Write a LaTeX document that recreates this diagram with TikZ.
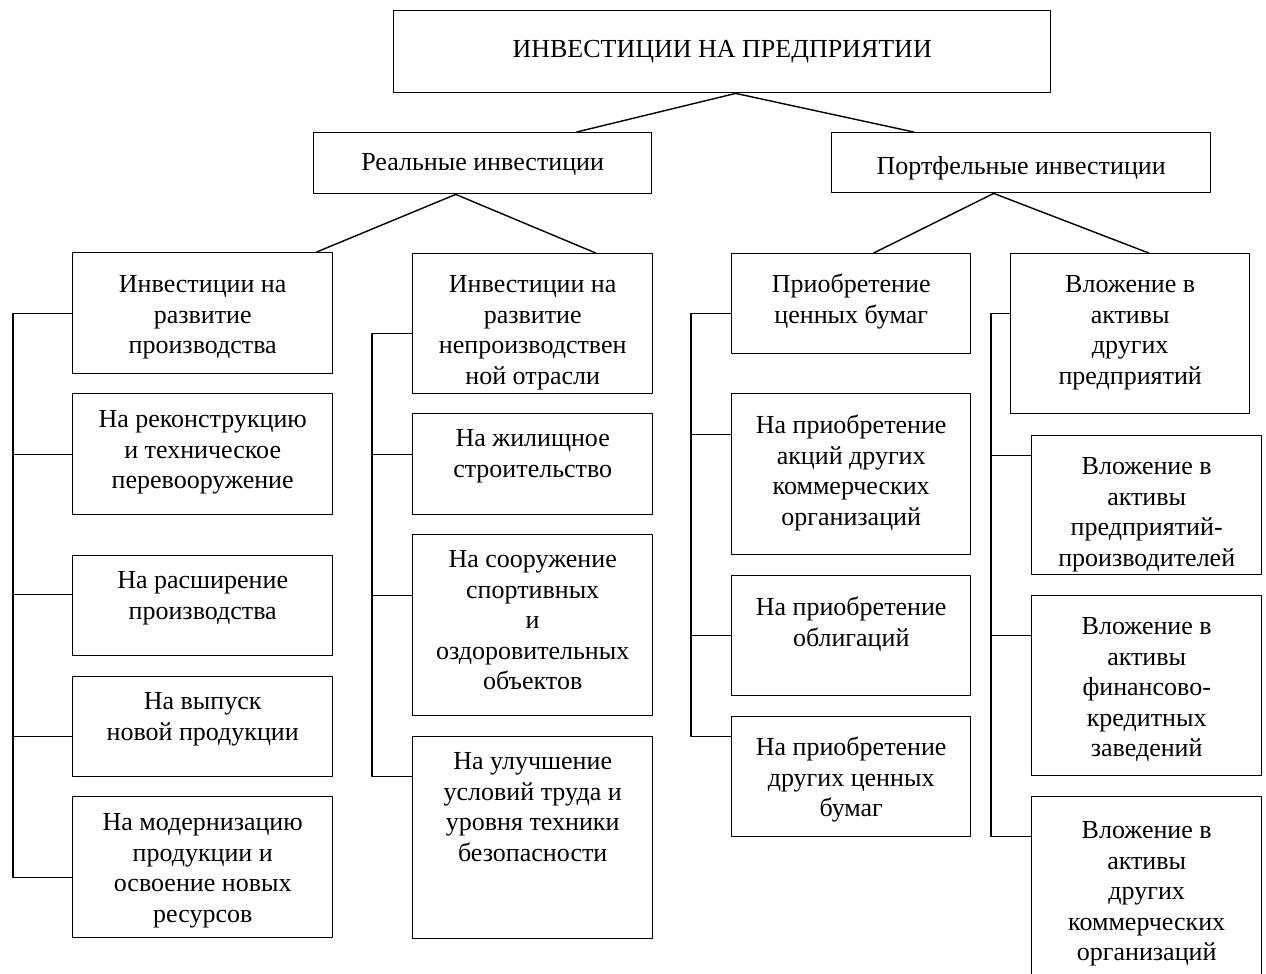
\documentclass[tikz,border=0pt]{standalone}
\usepackage{fontspec}
\setmainfont{Liberation Serif}
\usepackage{tikz}
\newcommand{\boxtxt}[4]{\parbox[t][#1pt][t]{#2pt}{\centering\rule{0pt}{#3pt}#4}}

\begin{document}
\begin{tikzpicture}[line cap=round,line join=round,x=1pt,y=-1pt,
  box/.style={draw,line width=1.4pt,inner sep=0pt,anchor=north west,font=\fontsize{26}{30.5}\selectfont},
  link/.style={line width=1.4pt}]
\useasboundingbox (0,0) rectangle (1266,974);
% upper levels
\node[box] (top) at (393,10) {\boxtxt{82}{657}{47}{ИНВЕСТИЦИИ НА ПРЕДПРИЯТИИ}};
\node[box] (real) at (313,132) {\boxtxt{61}{338}{38}{Реальные инвестиции}};
\node[box] (port) at (831,132) {\boxtxt{60}{379}{42}{Портфельные инвестиции}};
% column 1
\node[box] (c1b1) at (72,252) {\boxtxt{121}{260}{40}{Инвестиции на\\развитие\\производства}};
\node[box] (c1b2) at (72,393) {\boxtxt{121}{260}{34}{На реконструкцию\\и техническое\\перевооружение}};
\node[box] (c1b3) at (72,555) {\boxtxt{100}{260}{33}{На расширение\\производства}};
\node[box] (c1b4) at (72,676) {\boxtxt{100}{260}{33}{На выпуск\\новой продукции}};
\node[box] (c1b5) at (72,796) {\boxtxt{141}{260}{34}{На модернизацию\\продукции и\\освоение новых\\ресурсов}};
% column 2
\node[box] (c2b1) at (412,253) {\boxtxt{140}{240}{39}{Инвестиции на\\развитие\\непроизводствен\\ной отрасли}};
\node[box] (c2b2) at (412,413) {\boxtxt{101}{240}{33}{На жилищное\\строительство}};
\node[box] (c2b3) at (412,534) {\boxtxt{181}{240}{33}{На сооружение\\спортивных\\и\\оздоровительных\\объектов}};
\node[box] (c2b4) at (412,736) {\boxtxt{202}{240}{33}{На улучшение\\условий труда и\\уровня техники\\безопасности}};
% column 3
\node[box] (c3b1) at (731,253) {\boxtxt{100}{239}{39}{Приобретение\\ценных бумаг}};
\node[box] (c3b2) at (731,393) {\boxtxt{161}{239}{40}{На приобретение\\акций других\\коммерческих\\организаций}};
\node[box] (c3b3) at (731,575) {\boxtxt{120}{239}{40}{На приобретение\\облигаций}};
\node[box] (c3b4) at (731,716) {\boxtxt{120}{239}{39}{На приобретение\\других ценных\\бумаг}};
% column 4
\node[box] (c4b1) at (1010,253) {\boxtxt{160}{239}{39}{Вложение в\\активы\\других\\предприятий}};
\node[box] (c4b2) at (1031,435) {\boxtxt{139}{230}{39}{Вложение в\\активы\\предприятий-\\производителей}};
\node[box] (c4b3) at (1031,595) {\boxtxt{180}{230}{39}{Вложение в\\активы\\финансово-\\кредитных\\заведений}};
\node[box] (c4b4) at (1031,796) {\boxtxt{200}{230}{42}{Вложение в\\активы\\других\\коммерческих\\организаций}};
% tree links
\draw[link] ([xshift=13.5pt]top.south) -- ([xshift=94pt]real.north);
\draw[link] ([xshift=13.5pt]top.south) -- ([xshift=-107.5pt]port.north);
\draw[link] ([xshift=-27pt]real.south) -- ([xshift=114pt]c1b1.north);
\draw[link] ([xshift=-27pt]real.south) -- ([xshift=63pt]c2b1.north);
\draw[link] ([xshift=-27.5pt]port.south) -- ([xshift=22.5pt]c3b1.north);
\draw[link] ([xshift=-27.5pt]port.south) -- ([xshift=18.5pt]c4b1.north);
% brackets
\draw[link] (c1b1.west) -- ++(-59,0) |- ([yshift=-10pt]c1b5.west);
\foreach \n/\s in {c1b2/0,c1b3/11,c1b4/-10}
  \draw[link] ([yshift=\s pt]\n.west) -- ++(-59,0);
\draw[link] ([yshift=-10pt]c2b1.west) -- ++(-40,0) |- ([yshift=61pt]c2b4.west);
\foreach \n/\s in {c2b2/10,c2b3/30}
  \draw[link] ([yshift=\s pt]\n.west) -- ++(-40,0);
\draw[link] ([yshift=-10pt]c3b1.west) -- ++(-40,0) |- ([yshift=40pt]c3b4.west);
\foreach \n/\s in {c3b2/40,c3b3/0}
  \draw[link] ([yshift=\s pt]\n.west) -- ++(-40,0);
\draw[link] ([yshift=20pt]c4b1.west) -- ++(-19,0) |- ([yshift=60pt]c4b4.west);
\foreach \n/\s in {c4b2/50,c4b3/50}
  \draw[link] ([yshift=\s pt]\n.west) -- ++(-40,0);
\end{tikzpicture}
\end{document}
